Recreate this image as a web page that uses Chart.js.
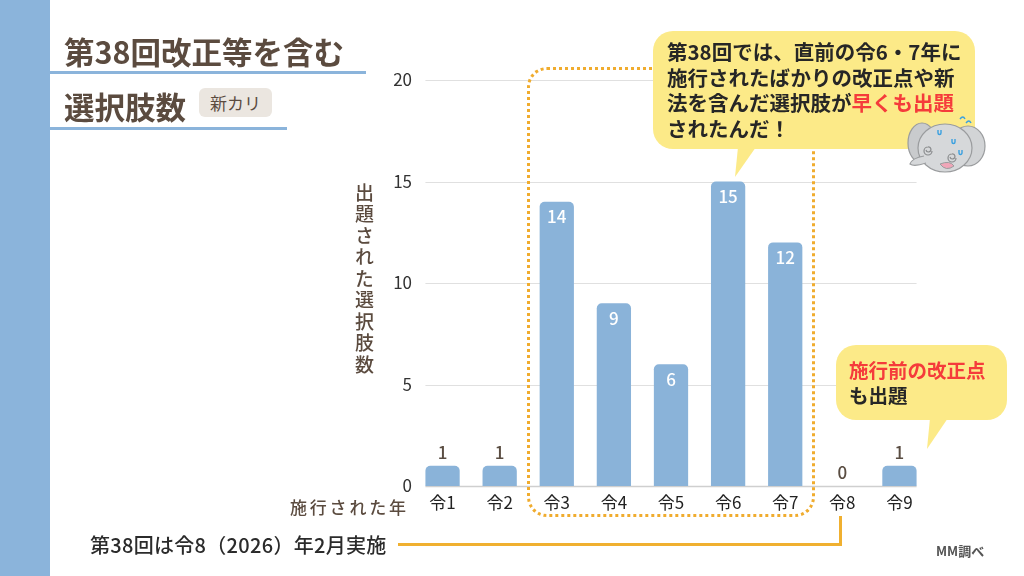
<!DOCTYPE html>
<html lang="ja">
<head>
<meta charset="utf-8">
<script src="https://cdn.jsdelivr.net/npm/chart.js@4.4.1/dist/chart.umd.min.js"></script>
<style>
  html, body { margin:0; padding:0; background:#fff; }
  #wrap { position:relative; width:1024px; height:576px; overflow:hidden; background:#fff;
          font-family:"Noto Sans CJK JP","Noto Sans",sans-serif; }
  #c { position:absolute; left:0; top:0; }
  .abs { position:absolute; }
  #side { left:0; top:0; width:50px; height:576px; background:#8bb4db; }
  .title { color:#5b4b3f; font-weight:700; font-size:30.5px; line-height:36px; white-space:nowrap; }
  .uline { height:3px; background:#8bb4db; }
  #badge { left:199px; top:88px; width:73px; height:29px; background:#ebe6e0; border-radius:6px;
           color:#5b4b3f; font-size:17px; line-height:29px; text-align:center; }
  #ytitle { left:354px; top:183px; writing-mode:vertical-rl; text-orientation:upright; color:#5b4b3f;
            font-size:19px; letter-spacing:2.5px; line-height:20px; font-weight:500; }
  #xtitle { left:290px; top:496px; color:#5b4b3f; font-size:17px; letter-spacing:2.8px; line-height:22px; white-space:nowrap; font-weight:500; }
  #dotbox { left:527px; top:67px; width:282px; height:444px; border:3px dotted #f0ac2e; border-radius:20px; }
  #conn { left:398px; top:516px; width:441px; height:27px; border-right:3px solid #f0b030; border-bottom:3px solid #f0b030; }
  #note { left:90px; top:531px; color:#2b2b2b; font-size:20px; font-weight:500; line-height:28px; white-space:nowrap; letter-spacing:0.3px; }
  .bubble { background:#fcea88; border-radius:20px; }
  #b1 { left:653px; top:31px; width:322px; height:118px; }
  #b1t { left:667px; top:39px; color:#262626; font-size:20.5px; font-weight:700; line-height:25.5px; white-space:nowrap; }
  #b2 { left:836px; top:345px; width:171px; height:75px; }
  #b2t { left:849px; top:357px; color:#262626; font-size:19.5px; font-weight:700; line-height:25px; white-space:nowrap; }
  .red { color:#f53b3b; }
  #src { left:936px; top:541px; color:#555; font-size:13px; font-weight:700; white-space:nowrap; }
  svg.abs { overflow:visible; }
</style>
</head>
<body>
<div id="wrap">
  <canvas id="c" width="1024" height="576"></canvas>
  <div id="side" class="abs"></div>
  <div class="abs title" style="left:64px;top:33px;">第38回改正等を含む</div>
  <div class="abs uline" style="left:50px;top:71px;width:316px;"></div>
  <div class="abs title" style="left:64px;top:88px;">選択肢数</div>
  <div id="badge" class="abs">新カリ</div>
  <div class="abs uline" style="left:50px;top:127px;width:237px;"></div>
  <div id="ytitle" class="abs">出題された選択肢数</div>
  <div id="xtitle" class="abs">施行された年</div>
  <div id="dotbox" class="abs"></div>
  <div id="conn" class="abs"></div>
  <div id="note" class="abs">第38回は令8（2026）年2月実施</div>

  <svg class="abs" style="left:0;top:0;" width="1024" height="576">
    <polygon points="738,147 756,147 735,177" fill="#fcea88"/>
    <polygon points="930,418 948,418 927,449" fill="#fcea88"/>
  </svg>
  <div id="b1" class="abs bubble"></div>
  <div id="b1t" class="abs">第38回では、直前の令6・7年に<br>施行されたばかりの改正点や新<br>法を含んだ選択肢が<span class="red">早くも出題</span><br>されたんだ！</div>
  <div id="b2" class="abs bubble"></div>
  <div id="b2t" class="abs"><span class="red">施行前の改正点</span><br>も出題</div>

  <svg class="abs" style="left:900px;top:108px;" width="90" height="72" viewBox="0 0 90 72">
    <ellipse cx="22" cy="35" rx="14" ry="20" fill="#c9cbcd" stroke="#9a9c9e" stroke-width="1.2"/>
    <ellipse cx="68" cy="38" rx="17" ry="20" fill="#d2d4d6" stroke="#9a9c9e" stroke-width="1.2"/>
    <ellipse cx="45" cy="40" rx="27" ry="24" fill="#d6d8da" stroke="#9a9c9e" stroke-width="1.2"/>
    <path d="M24 48 q-12 2 -14 8 q4 3 16 -1" fill="#d6d8da" stroke="#9a9c9e" stroke-width="1.2"/>
    <path d="M40 56 q6 8 14 2 q-4 -6 -14 -2z" fill="#f0a6b8" stroke="#9a9c9e" stroke-width="1"/>
    <path d="M32 43 a4 4 0 1 1 -4 -4 a2.5 2.5 0 1 1 -2 3" fill="none" stroke="#8a8c8e" stroke-width="1.2"/>
    <path d="M56 50 a4 4 0 1 1 -4 -4 a2.5 2.5 0 1 1 -2 3" fill="none" stroke="#8a8c8e" stroke-width="1.2"/>
    <path d="M38 22 v3 a1.5 1.5 0 0 0 3 0 v-3" fill="none" stroke="#3aa0e0" stroke-width="1.4"/>
    <path d="M52 31 v3 a1.5 1.5 0 0 0 3 0 v-3" fill="none" stroke="#3aa0e0" stroke-width="1.4"/>
    <path d="M59 42 v3 a1.5 1.5 0 0 0 3 0 v-3" fill="none" stroke="#3aa0e0" stroke-width="1.4"/>
    <path d="M60 11 q3 -4 5 0 M66 15 q3 -4 5 0" fill="none" stroke="#3aa0e0" stroke-width="1.4"/>
  </svg>
  <div id="src" class="abs">MM調べ</div>
</div>

<script>
const categories = ['令1','令2','令3','令4','令5','令6','令7','令8','令9'];
const selectionCounts = [1, 1, 14, 9, 6, 15, 12, 0, 1];
const yTickValues = [0, 5, 10, 15, 20];

const gridPlugin = {
  id: 'customGrid',
  beforeDatasetsDraw(chart) {
    const { ctx, scales: { x, y } } = chart;
    const meta = chart.getDatasetMeta(0);
    const half = meta.data[0].width / 2;
    const x0 = x.getPixelForValue(0) - half;
    const x1 = x.getPixelForValue(categories.length - 1) + half;
    ctx.save();
    yTickValues.forEach(v => {
      const py = Math.round(y.getPixelForValue(v)) + 0.5;
      ctx.strokeStyle = v === 0 ? '#cfcfcf' : '#e0e0e0';
      ctx.lineWidth = v === 0 ? 1.5 : 1;
      ctx.beginPath(); ctx.moveTo(x0, py); ctx.lineTo(x1, py); ctx.stroke();
    });
    ctx.restore();
  }
};

const labelPlugin = {
  id: 'valueLabels',
  afterDatasetsDraw(chart) {
    const { ctx } = chart;
    const meta = chart.getDatasetMeta(0);
    ctx.save();
    ctx.font = '500 17px "Noto Sans CJK JP", sans-serif';
    ctx.textAlign = 'center';
    ctx.textBaseline = 'middle';
    meta.data.forEach((el, i) => {
      const v = selectionCounts[i];
      if (v >= 5) {
        ctx.fillStyle = '#ffffff';
        ctx.fillText(String(v), el.x, el.y + 15);
      } else {
        ctx.fillStyle = '#5a4d42';
        ctx.fillText(String(v), el.x, el.y - 13);
      }
    });
    ctx.restore();
  }
};

new Chart(document.getElementById('c'), {
  type: 'bar',
  data: {
    labels: categories,
    datasets: [{
      data: selectionCounts,
      backgroundColor: '#8ab3d9',
      borderRadius: 5,
      borderSkipped: 'start',
      barPercentage: 0.6,
      categoryPercentage: 1.0
    }]
  },
  options: {
    responsive: false,
    animation: false,
    devicePixelRatio: 1,
    layout: { padding: { left: 374, right: 96, top: 80, bottom: 50 } },
    plugins: { legend: { display: false }, tooltip: { enabled: false } },
    scales: {
      x: {
        grid: { display: false, drawTicks: false },
        border: { display: false },
        ticks: { color: '#222', font: { size: 17, family: '"Noto Sans CJK JP", sans-serif' }, padding: 6 },
        afterFit: s => { s.height = 40; }
      },
      y: {
        min: 0, max: 20,
        afterBuildTicks: s => { s.ticks = yTickValues.map(v => ({ value: v })); },
        grid: { display: false, drawTicks: false },
        border: { display: false },
        ticks: { color: '#333', font: { size: 17, family: '"Noto Sans CJK JP", sans-serif' }, padding: 2 },
        afterFit: s => { s.width = 40; }
      }
    }
  },
  plugins: [gridPlugin, labelPlugin]
});
</script>
</body>
</html>
